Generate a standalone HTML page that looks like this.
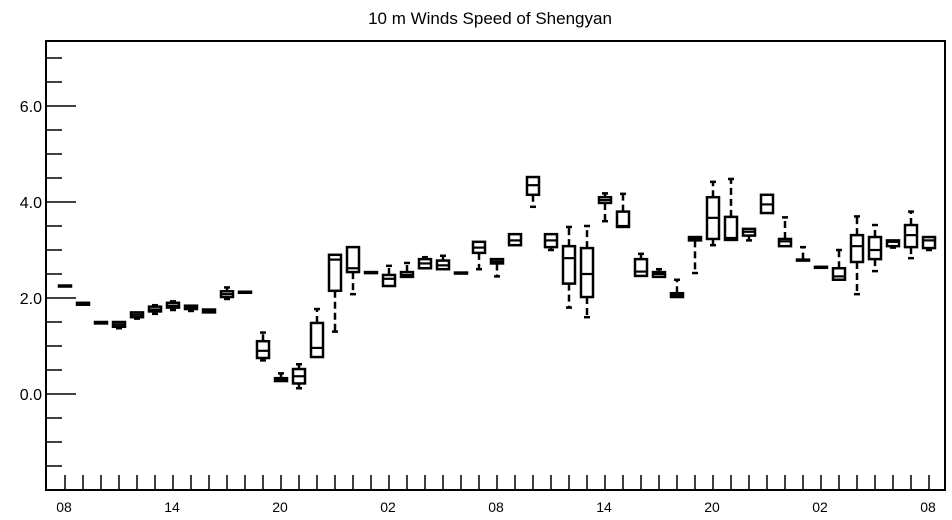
<!DOCTYPE html>
<html><head><meta charset="utf-8"><style>
body{margin:0;background:#fff;}
svg{display:block;font-family:"Liberation Sans",Helvetica,sans-serif;}
</style></head><body>
<svg id="chart" width="952" height="520">
<text x="490" y="24" text-anchor="middle" font-size="17">10 m Winds Speed of Shengyan</text>
<rect x="46" y="41" width="899" height="449" fill="none" stroke="#000" stroke-width="2"/>
<g id="axes"></g>
<g id="boxes"></g>
</svg>
<script>
const hourLabels = ["08","14","20","02","08","14","20","02","08"];
const yTickLabels = ["0.0","2.0","4.0","6.0"];
const yTickValues = [0,2,4,6];
const mins = [2.25,1.85,1.46,1.37,1.57,1.67,1.75,1.73,1.68,1.98,2.10,0.70,0.25,0.12,0.77,1.30,2.08,2.52,2.25,2.44,2.62,2.60,2.51,2.60,2.45,3.10,3.90,3.00,1.80,1.60,3.60,3.48,2.46,2.44,2.02,2.52,3.10,3.21,3.20,3.77,3.08,2.79,2.63,2.38,2.08,2.56,3.05,2.83,3.00];
const q1s  = [2.25,1.86,1.47,1.40,1.60,1.72,1.80,1.77,1.70,2.02,2.11,0.75,0.27,0.22,0.77,2.15,2.54,2.52,2.25,2.44,2.62,2.60,2.51,2.94,2.72,3.10,4.15,3.06,2.30,2.02,3.98,3.48,2.46,2.44,2.02,3.20,3.23,3.21,3.30,3.77,3.08,2.79,2.63,2.38,2.75,2.81,3.08,3.06,3.04];
const meds = [2.25,1.88,1.48,1.45,1.65,1.76,1.84,1.80,1.72,2.08,2.12,0.90,0.30,0.37,0.96,2.80,2.62,2.52,2.40,2.48,2.72,2.68,2.52,3.05,2.76,3.20,4.35,3.20,2.83,2.50,4.04,3.50,2.55,2.50,2.06,3.24,3.67,3.25,3.38,3.95,3.18,2.79,2.64,2.45,3.08,3.00,3.17,3.31,3.20];
const q3s  = [2.26,1.90,1.50,1.50,1.70,1.82,1.90,1.84,1.76,2.14,2.13,1.10,0.33,0.52,1.48,2.90,3.06,2.54,2.48,2.54,2.81,2.78,2.53,3.17,2.81,3.33,4.52,3.33,3.08,3.04,4.10,3.80,2.81,2.54,2.10,3.27,4.10,3.69,3.44,4.15,3.23,2.80,2.65,2.62,3.31,3.27,3.20,3.52,3.27];
const maxs = [2.26,1.91,1.51,1.52,1.72,1.85,1.93,1.86,1.78,2.22,2.14,1.28,0.43,0.62,1.77,2.90,3.06,2.54,2.67,2.73,2.85,2.88,2.53,3.17,2.81,3.33,4.52,3.33,3.48,3.50,4.18,4.17,2.92,2.60,2.38,3.27,4.42,4.48,3.44,4.17,3.68,3.06,2.65,3.00,3.70,3.52,3.20,3.80,3.27];

const NS="http://www.w3.org/2000/svg";
const L=46,R=945,T=41,B=490;
const yScale=v=>394-48*v;
const xScale=i=>65+18*i;
function mk(tag,attrs,parent){const e=document.createElementNS(NS,tag);for(const k in attrs)e.setAttribute(k,attrs[k]);parent.appendChild(e);return e;}
const ax=document.getElementById('axes');
for(let v=-1.5;v<=7.0;v+=0.5){
  const y=yScale(v);
  const major=Math.abs(v%2)<1e-6;
  const len=major?30:16;
  const t1=mk('line',{x1:L,x2:L+len,y1:y,y2:y,stroke:'#000','stroke-width':1.5},ax);
  
  
}
yTickValues.forEach((v,i)=>{
  const t=mk('text',{x:42,y:yScale(v)+6,'text-anchor':'end','font-size':16},ax);
  t.textContent=yTickLabels[i];
  
  
});
for(let i=0;i<mins.length;i++){
  const x=xScale(i);
  const t=mk('line',{x1:x,x2:x,y1:B,y2:B-15,stroke:'#000','stroke-width':1.5},ax);
  
  
}
hourLabels.forEach((s,i)=>{
  const t=mk('text',{x:xScale(i*6)-1,y:512,'text-anchor':'middle','font-size':14},ax);
  t.textContent=s;
  
  
});
const bx=document.getElementById('boxes');
for(let i=0;i<mins.length;i++){
  const x=xScale(i),w=12;
  const g=mk('g',{},bx);
  
  
  const yq1=yScale(q1s[i]),yq3=yScale(q3s[i]),ym=yScale(meds[i]);
  const ymin=yScale(mins[i]),ymax=yScale(maxs[i]);
  if(ymin-yq1>1){mk('line',{x1:x,x2:x,y1:yq1,y2:ymin,stroke:'#000','stroke-width':2.5,'stroke-dasharray':'7,4'},g);mk('line',{x1:x-3,x2:x+3,y1:ymin,y2:ymin,stroke:'#000','stroke-width':2.5},g);}
  if(yq3-ymax>1){mk('line',{x1:x,x2:x,y1:yq3,y2:ymax,stroke:'#000','stroke-width':2.5,'stroke-dasharray':'7,4'},g);mk('line',{x1:x-3,x2:x+3,y1:ymax,y2:ymax,stroke:'#000','stroke-width':2.5},g);}
  mk('rect',{x:x-w/2,y:yq3,width:w,height:Math.max(yq1-yq3,1),fill:'none',stroke:'#000','stroke-width':2.5},g);
  mk('line',{x1:x-w/2,x2:x+w/2,y1:ym,y2:ym,stroke:'#000','stroke-width':2.2},g);
}
</script>
</body></html>
